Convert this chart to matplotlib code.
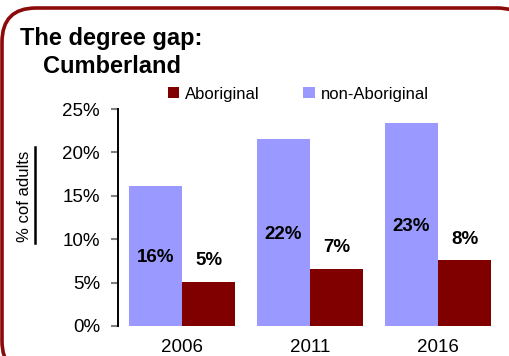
import numpy as np
import matplotlib
matplotlib.use('Agg')
import matplotlib.pyplot as plt
from matplotlib.patches import FancyBboxPatch
from matplotlib.lines import Line2D

plt.rcParams['font.family'] = ['Liberation Sans', 'DejaVu Sans']

# Share of adults holding a degree, Cumberland
years = ['2006', '2011', '2016']
non_aboriginal = [16.1, 21.5, 23.4]
aboriginal = [5.1, 6.6, 7.6]

blue = '#9999ff'
maroon = '#800000'

fig = plt.figure(figsize=(5.1, 3.56), dpi=100)

# background layer in pixel units for the rounded frame and titles
bg = fig.add_axes([0, 0, 1, 1])
bg.set_xlim(0, 510)
bg.set_ylim(356, 0)
bg.axis('off')
frame = FancyBboxPatch((2, 8), 529, 367, boxstyle='round,pad=0,rounding_size=34',
                       fc='white', ec='#8b0a0a', lw=2.6)
bg.add_patch(frame)
bg.text(20, 45, 'The degree gap:', fontsize=17, fontweight='bold', va='baseline')
bg.text(43, 73, 'Cumberland', fontsize=17, fontweight='bold', va='baseline')

ax = fig.add_axes([118 / 510, 30 / 356, 384 / 510, 217 / 356])
ax.patch.set_alpha(0)
x = np.arange(len(years))
w = 0.415
b1 = ax.bar(x - w / 2, non_aboriginal, w, color=blue, label='non-Aboriginal')
b2 = ax.bar(x + w / 2, aboriginal, w, color=maroon, label='Aboriginal')

for xi, v in zip(x, non_aboriginal):
    ax.text(xi - w / 2, v / 2 - 0.2, f'{v:.0f}%', ha='center', va='center',
            fontsize=13.5, fontweight='bold')
for xi, v in zip(x, aboriginal):
    ax.text(xi + w / 2, v + 2.4, f'{v:.0f}%', ha='center', va='center',
            fontsize=13.5, fontweight='bold')

ax.set_xlim(-0.5, 2.5)
ax.set_ylim(0, 25)
ax.set_yticks(range(0, 26, 5))
ax.set_yticklabels([f'{t}%' for t in range(0, 26, 5)])
ax.set_xticks(x)
ax.set_xticklabels(years)
for s in ['top', 'right', 'bottom']:
    ax.spines[s].set_visible(False)
ax.spines['left'].set_linewidth(1.4)
ax.tick_params(axis='y', length=5, width=1.5, color='#808080', labelsize=13.5, pad=8)
ax.tick_params(axis='x', length=0, labelsize=13.5, pad=9)

# y label with underline
bg.text(25, 196, '% cof adults', rotation=90, fontsize=12, ha='center', va='center')
bg.add_line(Line2D([35, 35], [147, 243], color='black', lw=1.8))

ax.legend([b2, b1], ['Aboriginal', 'non-Aboriginal'], ncol=2, frameon=False,
          loc='center left', bbox_to_anchor=(168 / 510, 262 / 356),
          bbox_transform=fig.transFigure, borderpad=0, borderaxespad=0,
          handlelength=0.68, handleheight=0.68, handletextpad=0.36,
          columnspacing=2.6, prop={'size': 12})

fig.savefig('out.png', dpi=100)
